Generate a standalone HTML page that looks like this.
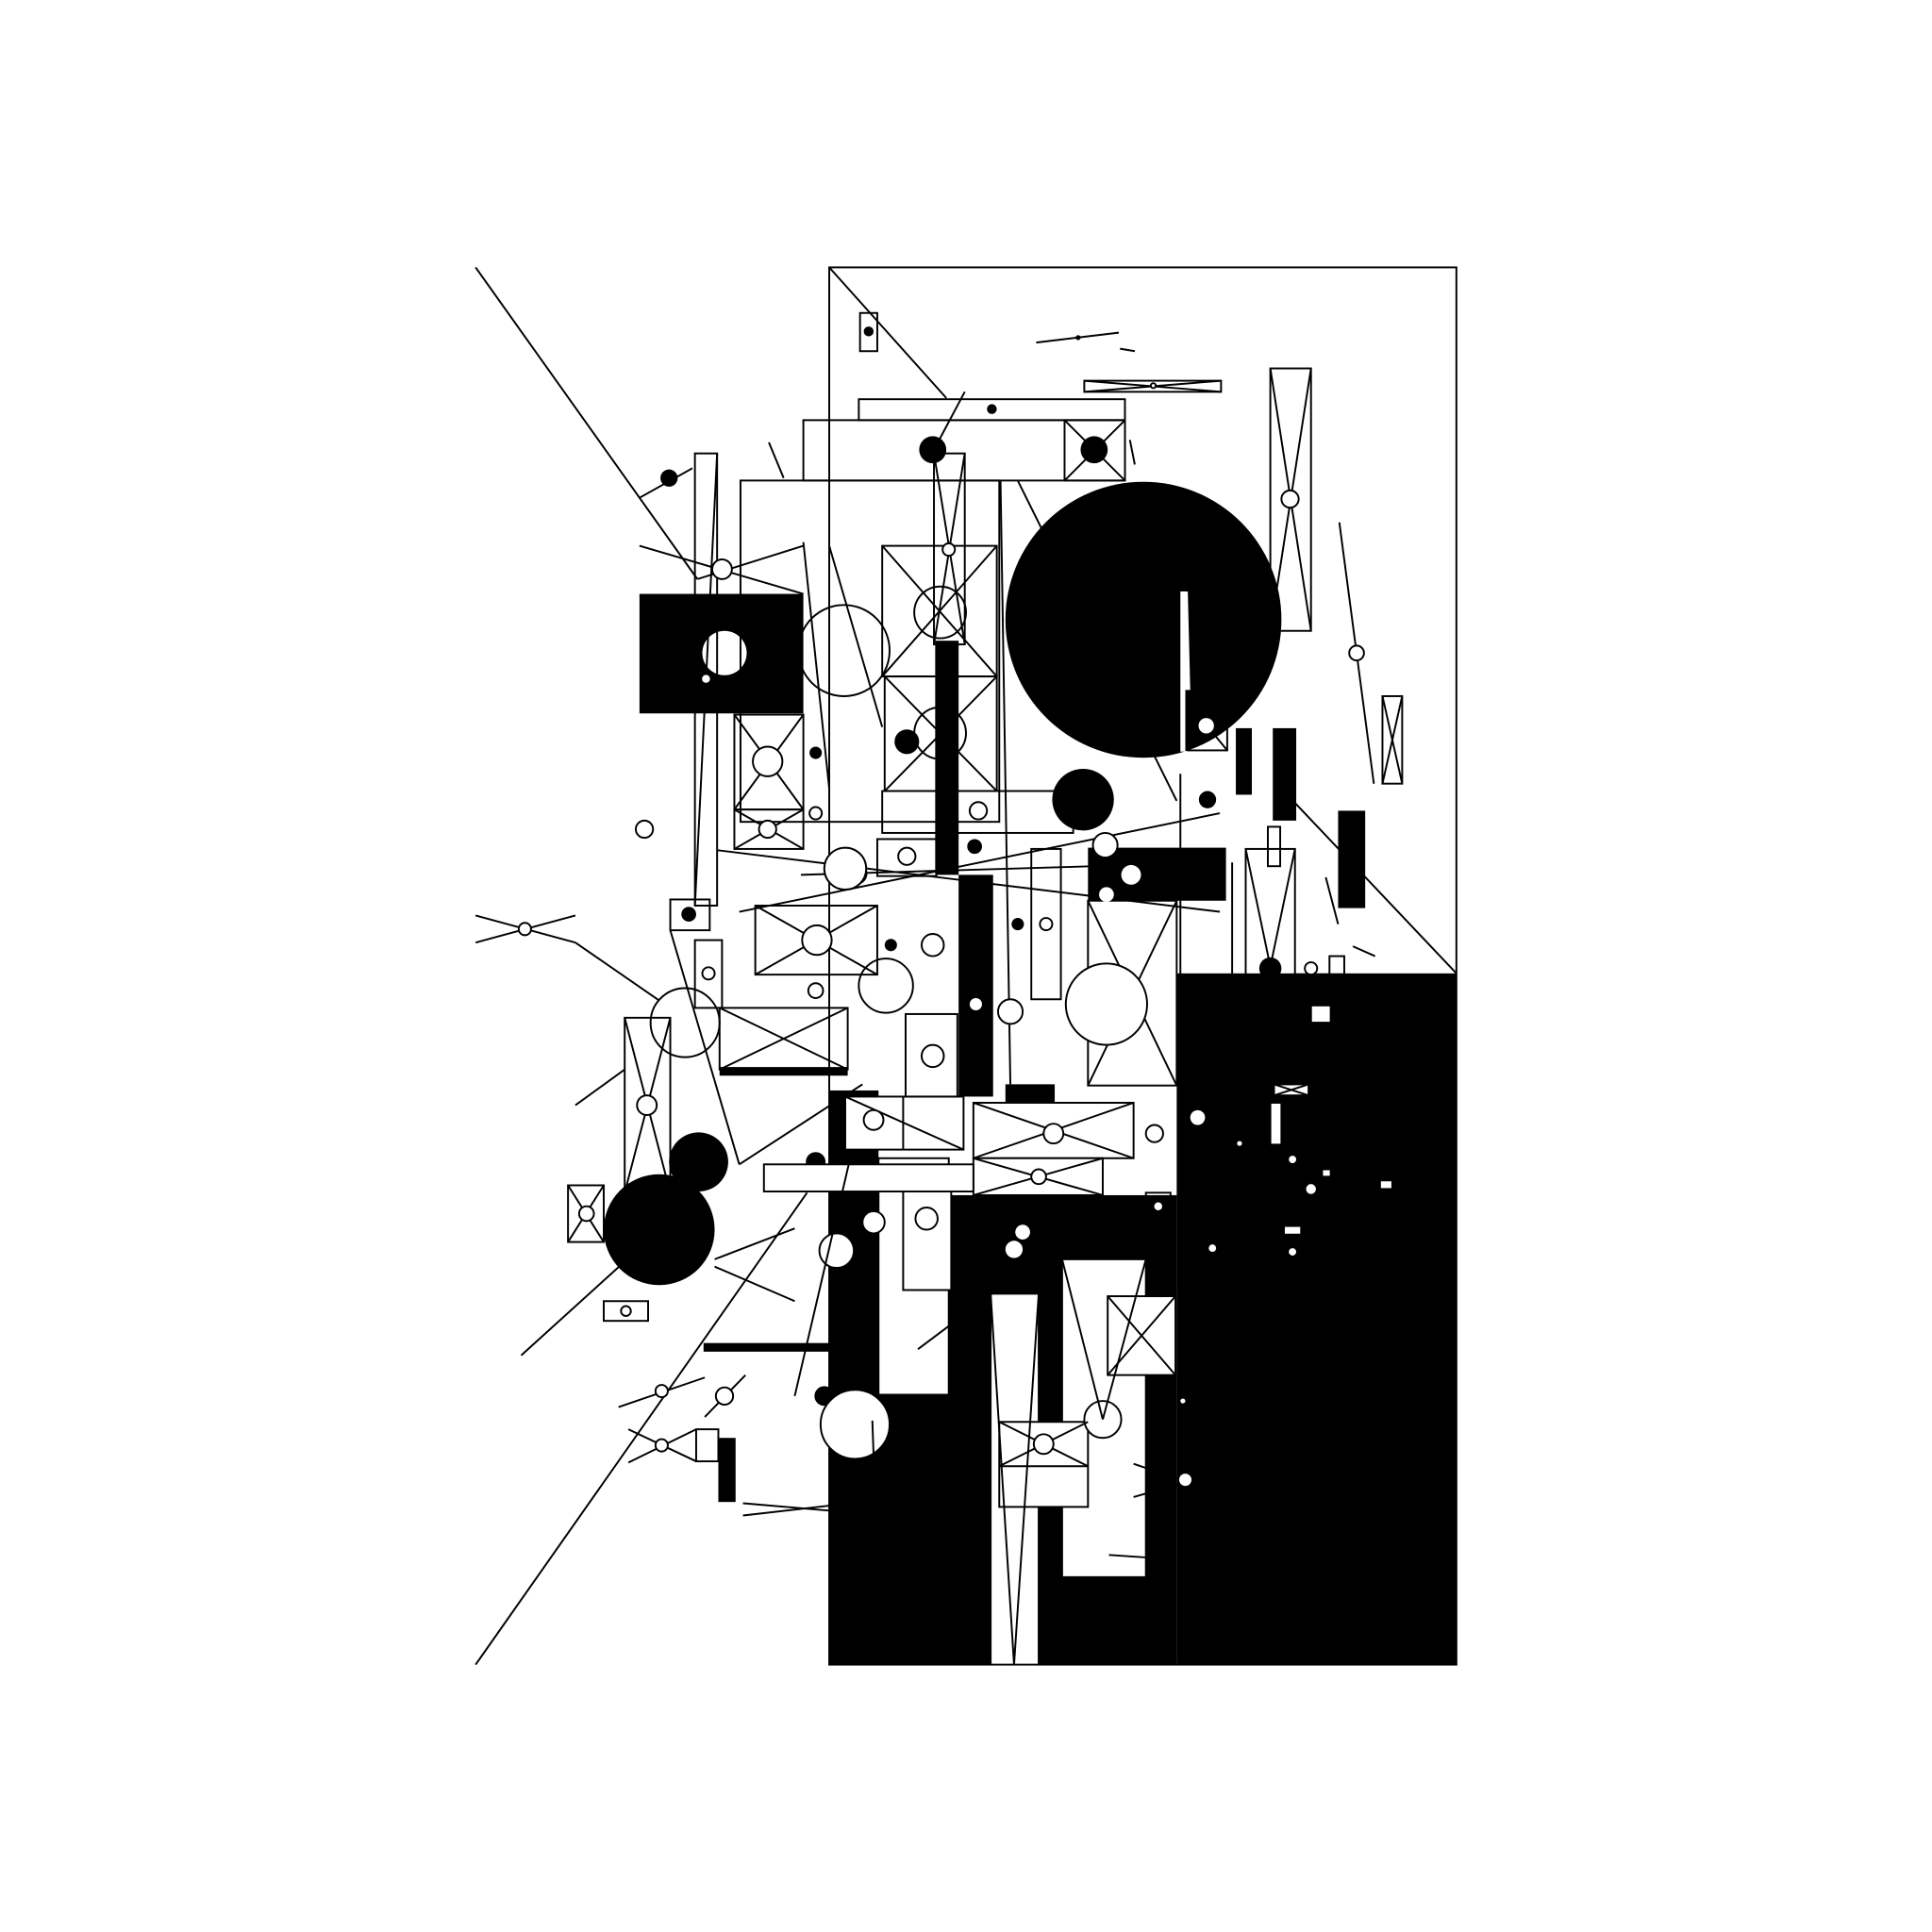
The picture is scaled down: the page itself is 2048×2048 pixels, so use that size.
<!DOCTYPE html>
<html><head><meta charset="utf-8"><style>html,body{margin:0;padding:0;background:#fff}svg{display:block}</style></head>
<body>
<svg width="2048" height="2048" viewBox="0 0 1568 1568" xmlns="http://www.w3.org/2000/svg">
<rect width="1568" height="1568" fill="#fff"/>
<g fill="none" stroke="#000" stroke-width="1.5">
<rect x="673" y="217" width="509" height="1134"/>
<line x1="386" y1="217" x2="566" y2="470"/>
<line x1="386" y1="1351" x2="655" y2="968"/>
<line x1="673" y1="217" x2="768" y2="323"/>
<line x1="1040" y1="640" x2="1182" y2="790"/>
</g>
<g fill="#000">
<rect x="955" y="790" width="227" height="561"/>
<rect x="673" y="970" width="282" height="381"/>
<rect x="673" y="885" width="40" height="90"/>
<rect x="1050" y="790" width="40" height="100"/>
<circle cx="928" cy="503" r="112"/>
<rect x="519" y="482" width="133" height="97"/>
<rect x="759" y="520" width="19" height="190"/>
<rect x="778" y="710" width="28" height="180"/>
<rect x="1033" y="591" width="19" height="75"/>
<rect x="1086" y="658" width="22" height="79"/>
<rect x="1003" y="591" width="13" height="54"/>
<rect x="883" y="688" width="112" height="43"/>
<rect x="816" y="880" width="40" height="15"/>
<rect x="571" y="1090" width="102" height="7"/>
<rect x="583" y="1167" width="14" height="52"/>
<rect x="584" y="866" width="104" height="7"/>
<rect x="1022" y="866" width="40" height="12"/>
<circle cx="535" cy="998" r="45"/>
<circle cx="567" cy="943" r="24"/>
<circle cx="879" cy="649" r="25"/>
<circle cx="543" cy="388" r="7"/>
<circle cx="757" cy="365" r="11"/>
<circle cx="888" cy="365" r="11"/>
<circle cx="736" cy="602" r="10"/>
<circle cx="695" cy="709" r="9"/>
<circle cx="1031" cy="786" r="9"/>
<circle cx="926" cy="1084" r="12"/>
<circle cx="662" cy="943" r="8"/>
<circle cx="669" cy="1133" r="8"/>
<circle cx="559" cy="742" r="6"/>
<circle cx="980" cy="649" r="7"/>
<circle cx="791" cy="687" r="6"/>
<circle cx="826" cy="750" r="5"/>
<circle cx="752" cy="1034" r="5"/>
<circle cx="662" cy="611" r="5"/>
<circle cx="723" cy="767" r="5"/>
<circle cx="705" cy="269" r="4"/>
<circle cx="805" cy="332" r="4"/>
<circle cx="875" cy="274" r="2"/>
</g>
<!-- white strip in big circle -->
<g fill="#fff">
<rect x="958" y="480" width="4" height="130"/>
<polygon points="962,480 964,480 966,560 962,560"/>
</g>
<g fill="#fff" stroke="#000" stroke-width="1.5">
<circle cx="588" cy="530" r="18" stroke="none"/>
<polygon points="804,1050 843,1050 843,1351 804,1351"/>
<rect x="862" y="1022" width="68" height="258"/>
<rect x="713" y="940" width="57" height="192"/>
<rect x="811" y="1154" width="72" height="69"/>
<rect x="899" y="1052" width="55" height="64"/>
<rect x="733" y="957" width="39" height="90"/>
<circle cx="694" cy="1156" r="28"/>
<circle cx="679" cy="1015" r="14"/>
<circle cx="709" cy="992" r="9"/>
<circle cx="895" cy="1152" r="15"/>
<rect x="790" y="895" width="130" height="45"/>
<rect x="790" y="940" width="105" height="30"/>
<rect x="620" y="945" width="170" height="22"/>
<rect x="686" y="890" width="96" height="43"/>
<rect x="1034" y="880" width="28" height="9"/>
<rect x="1031" y="895" width="9" height="34"/>
<rect x="1064" y="816" width="16" height="14"/>
<rect x="1042" y="995" width="14" height="7"/>
<rect x="1120" y="958" width="10" height="7"/>
<rect x="1073" y="949" width="7" height="6"/>
<rect x="1029" y="671" width="10" height="32"/>
</g>
<g fill="none" stroke="#000" stroke-width="1.5">
<line x1="811" y1="1154" x2="883" y2="1190"/><line x1="883" y1="1154" x2="811" y2="1190"/><line x1="811" y1="1190" x2="883" y2="1190"/>
<line x1="804" y1="1050" x2="823" y2="1351"/><line x1="843" y1="1050" x2="823" y2="1351"/>
<line x1="862" y1="1022" x2="895" y2="1152"/><line x1="930" y1="1022" x2="895" y2="1152"/>
<line x1="899" y1="1052" x2="954" y2="1116"/><line x1="954" y1="1052" x2="899" y2="1116"/>
<line x1="790" y1="895" x2="920" y2="940"/><line x1="920" y1="895" x2="790" y2="940"/>
<line x1="790" y1="940" x2="895" y2="970"/><line x1="895" y1="940" x2="790" y2="970"/>
<line x1="686" y1="890" x2="782" y2="933"/><line x1="733" y1="890" x2="733" y2="933"/>
<line x1="1034" y1="880" x2="1062" y2="889"/><line x1="1062" y1="880" x2="1034" y2="889"/>
</g>
<g fill="#fff" stroke="#000" stroke-width="1.5">
<circle cx="847" cy="1172" r="8"/><circle cx="855" cy="920" r="8"/><circle cx="843" cy="955" r="6"/><circle cx="709" cy="909" r="8"/>
<circle cx="937" cy="920" r="7"/>
</g>
<g fill="none" stroke="#000" stroke-width="1.5">
<rect x="652" y="341" width="261" height="49"/>
<rect x="697" y="324" width="216" height="17"/>
<rect x="864" y="341" width="49" height="49"/><line x1="864" y1="341" x2="913" y2="390"/><line x1="913" y1="341" x2="864" y2="390"/>
<rect x="601" y="390" width="210" height="277"/>
<rect x="716" y="443" width="93" height="106"/><line x1="716" y1="443" x2="809" y2="549"/><line x1="809" y1="443" x2="716" y2="549"/>
<rect x="718" y="549" width="91" height="93"/><line x1="718" y1="549" x2="809" y2="642"/><line x1="809" y1="549" x2="718" y2="642"/>
<rect x="716" y="642" width="155" height="34"/>
<rect x="758" y="368" width="25" height="155"/><line x1="758" y1="368" x2="783" y2="523"/><line x1="783" y1="368" x2="758" y2="523"/>
<rect x="564" y="368" width="18" height="367"/><line x1="582" y1="368" x2="564" y2="735"/>
<rect x="1031" y="299" width="33" height="213"/><line x1="1031" y1="299" x2="1064" y2="512"/><line x1="1064" y1="299" x2="1031" y2="512"/>
<rect x="880" y="309" width="111" height="9"/><line x1="880" y1="309" x2="991" y2="318"/><line x1="991" y1="309" x2="880" y2="318"/>
<rect x="698" y="254" width="14" height="31"/>
<rect x="1122" y="565" width="16" height="71"/><line x1="1122" y1="565" x2="1138" y2="636"/><line x1="1138" y1="565" x2="1122" y2="636"/>
<rect x="596" y="580" width="56" height="77"/><line x1="596" y1="580" x2="652" y2="657"/><line x1="652" y1="580" x2="596" y2="657"/>
<rect x="596" y="657" width="56" height="32"/><line x1="596" y1="657" x2="652" y2="689"/><line x1="652" y1="657" x2="596" y2="689"/>
<rect x="964" y="570" width="32" height="39"/><line x1="964" y1="570" x2="996" y2="609"/><line x1="996" y1="570" x2="964" y2="609"/>
<rect x="613" y="735" width="99" height="56"/><line x1="613" y1="735" x2="712" y2="791"/><line x1="712" y1="735" x2="613" y2="791"/>
<rect x="584" y="818" width="104" height="50"/><line x1="584" y1="818" x2="688" y2="868"/><line x1="688" y1="818" x2="584" y2="868"/>
<rect x="507" y="826" width="37" height="142"/><line x1="507" y1="826" x2="544" y2="968"/><line x1="544" y1="826" x2="507" y2="968"/>
<rect x="461" y="962" width="29" height="46"/><line x1="461" y1="962" x2="490" y2="1008"/><line x1="490" y1="962" x2="461" y2="1008"/>
<rect x="490" y="1056" width="36" height="16"/>
<rect x="544" y="730" width="32" height="25"/>
<rect x="564" y="763" width="22" height="55"/>
<rect x="735" y="823" width="42" height="67"/>
<rect x="712" y="681" width="48" height="30"/>
<rect x="837" y="689" width="24" height="122"/>
<rect x="883" y="731" width="72" height="150"/><line x1="883" y1="731" x2="955" y2="881"/><line x1="955" y1="731" x2="883" y2="881"/>
<rect x="1011" y="689" width="40" height="191"/><line x1="1011" y1="689" x2="1051" y2="880"/><line x1="1051" y1="689" x2="1011" y2="880"/>
<rect x="1047" y="816" width="15" height="50"/>
<rect x="1079" y="776" width="12" height="35"/>
<rect x="930" y="968" width="20" height="22"/>
<rect x="565" y="1160" width="18" height="26"/>
<rect x="715" y="1220" width="15" height="30"/>
<line x1="841" y1="278" x2="908" y2="270"/><line x1="909" y1="283" x2="921" y2="285"/>
<line x1="1087" y1="424" x2="1115" y2="636"/>
<line x1="386" y1="743" x2="467" y2="765"/><line x1="386" y1="765" x2="467" y2="743"/>
<line x1="467" y1="765" x2="535" y2="812"/><line x1="467" y1="897" x2="507" y2="868"/>
<line x1="423" y1="1100" x2="508" y2="1023"/><line x1="580" y1="1022" x2="645" y2="997"/><line x1="580" y1="1028" x2="645" y2="1056"/>
<line x1="502" y1="1142" x2="572" y2="1118"/><line x1="510" y1="1187" x2="565" y2="1160"/><line x1="510" y1="1160" x2="565" y2="1186"/>
<line x1="603" y1="1220" x2="673" y2="1226"/><line x1="603" y1="1230" x2="673" y2="1222"/>
<line x1="519" y1="443" x2="652" y2="482"/><line x1="566" y1="470" x2="652" y2="443"/>
<line x1="519" y1="404" x2="562" y2="380"/><line x1="624" y1="359" x2="636" y2="388"/>
<line x1="758" y1="365" x2="783" y2="318"/><line x1="917" y1="357" x2="921" y2="377"/>
<line x1="582" y1="690" x2="990" y2="740"/><line x1="600" y1="740" x2="990" y2="660"/>
<line x1="650" y1="710" x2="990" y2="700"/>
<line x1="544" y1="755" x2="600" y2="945"/><line x1="600" y1="945" x2="700" y2="880"/>
<line x1="812" y1="390" x2="820" y2="880"/><line x1="826" y1="390" x2="955" y2="650"/>
<line x1="958" y1="628" x2="958" y2="1115"/><line x1="1000" y1="700" x2="1000" y2="880"/>
<line x1="745" y1="1095" x2="805" y2="1050"/><line x1="900" y1="1262" x2="930" y2="1264"/>
<line x1="920" y1="1188" x2="955" y2="1200"/><line x1="920" y1="1215" x2="955" y2="1205"/>
<line x1="713" y1="1132" x2="770" y2="1132"/>
<line x1="708" y1="1153" x2="710" y2="1210"/>
<line x1="645" y1="1133" x2="690" y2="940"/><line x1="572" y1="1150" x2="605" y2="1116"/>
<line x1="673" y1="443" x2="716" y2="590"/><line x1="652" y1="440" x2="673" y2="640"/>
<line x1="1076" y1="712" x2="1086" y2="750"/><line x1="1098" y1="768" x2="1116" y2="776"/>
<circle cx="685" cy="528" r="37"/><circle cx="763" cy="595" r="21"/><circle cx="763" cy="497" r="21"/>
<circle cx="556" cy="830" r="28"/><circle cx="719" cy="800" r="22"/>
</g>
<g fill="#fff" stroke="#000" stroke-width="1.5">
<circle cx="898" cy="815" r="33"/>
<circle cx="1047" cy="405" r="7"/><circle cx="1101" cy="530" r="6"/><circle cx="770" cy="446" r="5"/>
<circle cx="573" cy="551" r="4"/><circle cx="623" cy="618" r="12"/><circle cx="623" cy="673" r="7"/><circle cx="586" cy="462" r="8"/>
<circle cx="979" cy="589" r="7"/><circle cx="663" cy="763" r="12"/><circle cx="525" cy="897" r="8"/><circle cx="476" cy="985" r="6"/>
<circle cx="426" cy="754" r="5"/><circle cx="523" cy="673" r="7"/><circle cx="686" cy="705" r="17"/><circle cx="736" cy="695" r="7"/>
<circle cx="757" cy="767" r="9"/><circle cx="757" cy="857" r="9"/><circle cx="820" cy="821" r="10"/><circle cx="849" cy="750" r="5"/>
<circle cx="897" cy="686" r="10"/><circle cx="794" cy="658" r="7"/><circle cx="752" cy="989" r="9"/><circle cx="588" cy="1133" r="7"/>
<circle cx="537" cy="1129" r="5"/><circle cx="537" cy="1173" r="5"/><circle cx="575" cy="790" r="5"/><circle cx="1064" cy="786" r="5"/>
<circle cx="662" cy="804" r="6"/><circle cx="662" cy="660" r="5"/><circle cx="508" cy="1064" r="4"/><circle cx="940" cy="979" r="4"/>
<circle cx="936" cy="313" r="2"/>
</g>
<g fill="#fff">
<circle cx="918" cy="710" r="8"/><circle cx="898" cy="726" r="6"/><circle cx="972" cy="907" r="6"/><circle cx="830" cy="1000" r="6"/>
<circle cx="823" cy="1014" r="7"/><circle cx="962" cy="1201" r="5"/><circle cx="984" cy="1013" r="3"/><circle cx="1064" cy="965" r="4"/>
<circle cx="792" cy="815" r="5"/><circle cx="1049" cy="941" r="3"/><circle cx="1049" cy="1016" r="3"/><circle cx="1006" cy="928" r="2"/>
<circle cx="960" cy="1137" r="2"/>
</g>
</svg>
</body></html>
